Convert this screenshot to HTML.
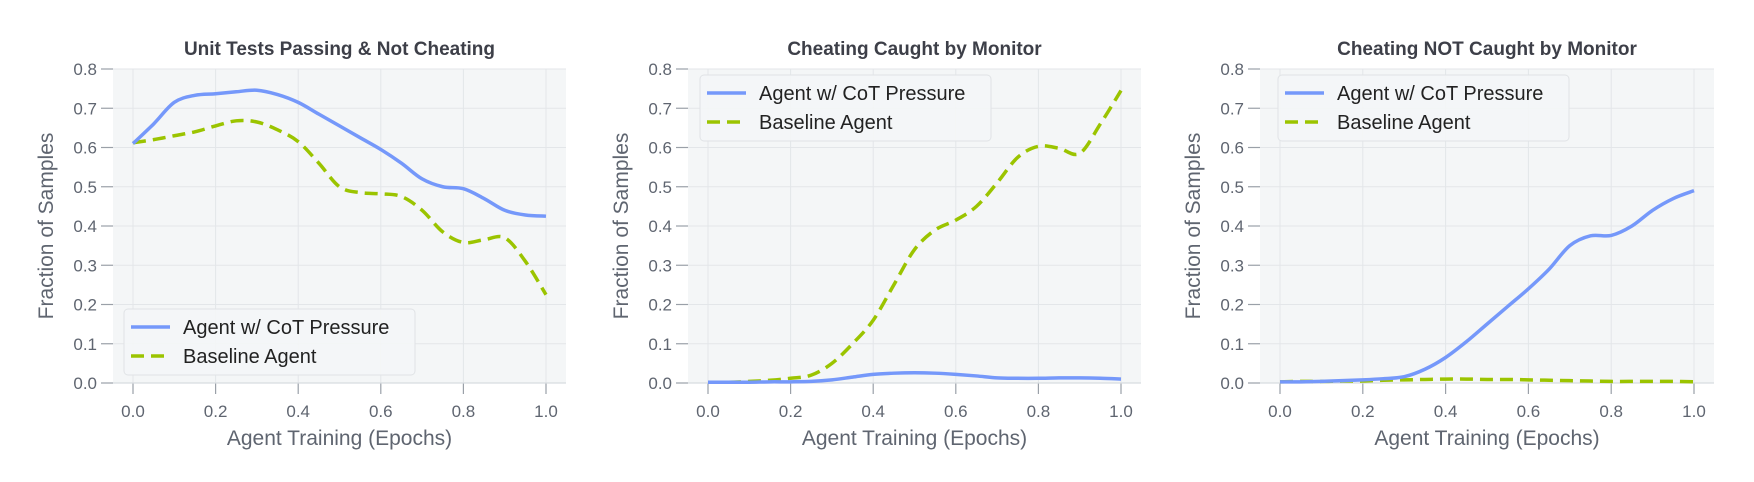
<!DOCTYPE html>
<html><head><meta charset="utf-8"><style>
body{margin:0;background:#fff;}
svg{display:block;font-family:"Liberation Sans",sans-serif;}
</style></head><body>
<svg id="chart" width="1754" height="482" viewBox="0 0 1754 482"></svg>
<script>
const xs = [0,0.05,0.1,0.15,0.2,0.25,0.3,0.35,0.4,0.45,0.5,0.55,0.6,0.65,0.7,0.75,0.8,0.85,0.9,0.95,1.0];
const p1Agent = [0.61,0.66,0.715,0.733,0.737,0.742,0.746,0.735,0.715,0.685,0.655,0.625,0.595,0.56,0.52,0.5,0.495,0.47,0.44,0.428,0.425];
const p1Base  = [0.612,0.62,0.63,0.64,0.655,0.668,0.665,0.645,0.615,0.56,0.5,0.485,0.482,0.475,0.44,0.385,0.358,0.365,0.37,0.31,0.225];
const p2Agent = [0.002,0.002,0.002,0.003,0.003,0.004,0.008,0.015,0.022,0.025,0.026,0.025,0.022,0.018,0.013,0.012,0.012,0.013,0.013,0.012,0.01];
const p2Base  = [0.002,0.002,0.004,0.007,0.012,0.02,0.05,0.1,0.16,0.25,0.34,0.39,0.415,0.45,0.51,0.575,0.603,0.598,0.585,0.66,0.745];
const p3Agent = [0.003,0.003,0.004,0.006,0.008,0.011,0.016,0.035,0.065,0.105,0.15,0.195,0.24,0.29,0.35,0.375,0.376,0.4,0.44,0.47,0.49];
const p3Base  = [0.003,0.004,0.004,0.005,0.005,0.007,0.008,0.009,0.01,0.01,0.009,0.009,0.008,0.007,0.006,0.005,0.004,0.004,0.004,0.004,0.003];
const yTicks = ["0.0","0.1","0.2","0.3","0.4","0.5","0.6","0.7","0.8"];
const xTicks = ["0.0","0.2","0.4","0.6","0.8","1.0"];
const titles = ["Unit Tests Passing & Not Cheating","Cheating Caught by Monitor","Cheating NOT Caught by Monitor"];
const seriesLabels = ["Agent w/ CoT Pressure","Baseline Agent"];

const NS="http://www.w3.org/2000/svg";
const svg=document.getElementById('chart');
function mk(tag,attrs,parent){const e=document.createElementNS(NS,tag);for(const k in attrs)e.setAttribute(k,attrs[k]);(parent||svg).appendChild(e);return e;}
const BLUE="#7598fa",GREEN="#9bc400";
const Y0=383,Y1=69;
const panels=[
 {x0:133,x1:546,a:p1Agent,b:p1Base,leg:{x:124,y:309}},
 {x0:708,x1:1121,a:p2Agent,b:p2Base,leg:{x:700,y:75}},
 {x0:1280,x1:1694,a:p3Agent,b:p3Base,leg:{x:1278,y:75}}
];
function smooth(pts){let d=`M${pts[0][0]},${pts[0][1]}`;for(let i=0;i<pts.length-1;i++){const p0=pts[Math.max(0,i-1)],p1=pts[i],p2=pts[i+1],p3=pts[Math.min(pts.length-1,i+2)];
 d+=` C${p1[0]+(p2[0]-p0[0])/6},${p1[1]+(p2[1]-p0[1])/6} ${p2[0]-(p3[0]-p1[0])/6},${p2[1]-(p3[1]-p1[1])/6} ${p2[0]},${p2[1]}`;}return d;}
panels.forEach((p,pi)=>{
 const g=mk('g',{});
 
 
 const sx=v=>p.x0+v*(p.x1-p.x0);
 const sy=v=>Y0+(v/0.8)*(Y1-Y0);
 const bl=p.x0-20,br=p.x1+20;
 const bg=mk('rect',{x:bl,y:Y1,width:br-bl,height:Y0-Y1,fill:"#f4f6f7"},g);
 
 
 yTicks.forEach(t=>{const y=sy(parseFloat(t));
  mk('line',{x1:bl,x2:br,y1:y,y2:y,stroke:"#e3e6e9","stroke-width":1},g);
  mk('line',{x1:bl-12,x2:bl,y1:y,y2:y,stroke:"#9aa0a8","stroke-width":1.2},g);
  const tx=mk('text',{x:bl-16,y:y+6,"text-anchor":"end","font-size":17,fill:"#5f6570"},g);tx.textContent=t;
  
  
 });
 xTicks.forEach(t=>{const x=sx(parseFloat(t));
  mk('line',{x1:x,x2:x,y1:Y1,y2:Y0,stroke:"#e3e6e9","stroke-width":1},g);
  mk('line',{x1:x,x2:x,y1:Y0,y2:Y0+11,stroke:"#9aa0a8","stroke-width":1.2},g);
  const tx=mk('text',{x:x,y:Y0+34,"text-anchor":"middle","font-size":17,fill:"#5f6570"},g);tx.textContent=t;
  
  
 });
 mk('line',{x1:bl,x2:br,y1:Y0,y2:Y0,stroke:"#d8dce0","stroke-width":1.2},g);
 const title=mk('text',{x:(bl+br)/2,y:55,"text-anchor":"middle","font-size":19,"font-weight":"bold",fill:"#3d3f48"},g);title.textContent=titles[pi];
 
 
 const xl=mk('text',{x:(p.x0+p.x1)/2,y:445,"text-anchor":"middle","font-size":21,fill:"#5f6570"},g);xl.textContent="Agent Training (Epochs)";
 
 
 const yl=mk('text',{x:0,y:0,"text-anchor":"middle","font-size":21,fill:"#5f6570",transform:`translate(${bl-60},${(Y0+Y1)/2}) rotate(-90)`},g);yl.textContent="Fraction of Samples";
 
 
 const lb=mk('path',{d:smooth(xs.map((x,i)=>[sx(x),sy(p.b[i])])),fill:"none",stroke:GREEN,"stroke-width":3.5,"stroke-dasharray":"13,7"},g);
 
 
 const la=mk('path',{d:smooth(xs.map((x,i)=>[sx(x),sy(p.a[i])])),fill:"none",stroke:BLUE,"stroke-width":3.5},g);
 
 
 const L=p.leg;
 const lg=mk('g',{},g);
 
 
 mk('rect',{x:L.x,y:L.y,width:291,height:66,rx:4,fill:"#f4f6f7","fill-opacity":0.9,stroke:"#e0e3e6"},lg);
 mk('line',{x1:L.x+7,x2:L.x+46,y1:L.y+18,y2:L.y+18,stroke:BLUE,"stroke-width":3.5},lg);
 mk('line',{x1:L.x+7,x2:L.x+46,y1:L.y+47,y2:L.y+47,stroke:GREEN,"stroke-width":3.5,"stroke-dasharray":"13,7"},lg);
 seriesLabels.forEach((s,i)=>{const t=mk('text',{x:L.x+59,y:L.y+25+i*29,"font-size":20,fill:"#222"},lg);t.textContent=s;
  
  });
});
</script>
</body></html>
